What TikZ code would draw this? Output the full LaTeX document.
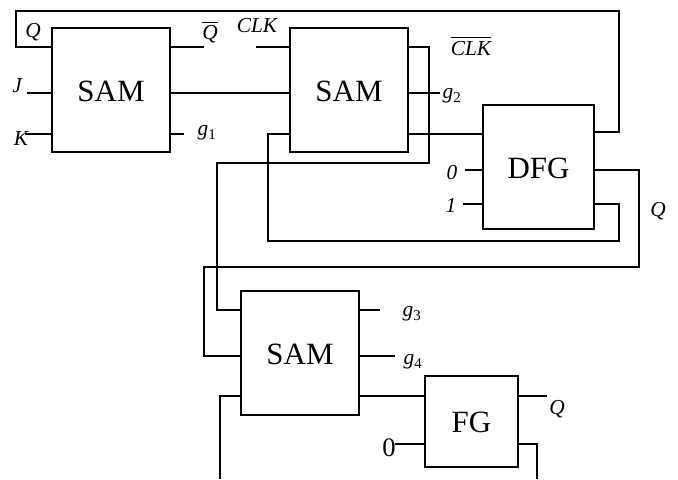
\documentclass[tikz,border=0pt]{standalone}
\usepackage{amsmath}
\usepackage{fontspec}
\setmainfont{Liberation Serif}
\newcommand{\subsig}[2]{\textit{#1}\textsubscript{\upshape #2}}
\tikzset{
    block/.style={draw, line width=1.1pt, inner sep=0pt, outer sep=0pt, text height=17.2pt, text depth=0pt, font=\fontsize{23.2}{26}\selectfont},
    samblock/.style={block, minimum width=88.5pt, minimum height=93pt},
    dfgblock/.style={block, minimum width=83.25pt, minimum height=93pt},
    fgblock/.style={block, minimum width=69.75pt, minimum height=68.25pt},
    wire/.style={draw, line width=1pt},
    sig/.style={inner sep=0pt, font=\fontsize{16}{18}\selectfont\itshape},
}

\begin{document}
\begin{tikzpicture}[x=0.75pt, y=-0.75pt]
        \useasboundingbox (0,0) rectangle (678,479);

        \node[samblock] (samA) at (111,90) {SAM};
        \node[samblock] (samB) at (349,90) {SAM};
        \node[dfgblock] (dfg) at (538.5,167) {DFG};
        \node[samblock] (samC) at (300,353) {SAM};
        \node[fgblock] (fg) at (471.5,421.5) {FG};

        \node[sig] (lblQa) at (33,32) {Q};
        \node[sig] (lblJ) at (17,86) {J};
        \node[sig] (lblK) at (21,139) {K};
        \node[sig] (lblQbar) at (210,32) {$\overline{\mbox{\itshape Q}}$};
        \node[sig] (lblGa) at (207,133) {\subsig{g}{1}};
        \node[sig] (lblClk) at (257,26) {CLK};
        \node[sig] (lblClkbar) at (471,46) {$\overline{\mbox{\itshape CLK}}$};
        \node[sig] (lblGb) at (452,96) {\subsig{g}{2}};
        \node[sig] (lblZero) at (452,173) {0};
        \node[sig] (lblOne) at (451,205) {1};
        \node[sig] (lblQb) at (658,211) {Q};
        \node[sig] (lblGc) at (412,314) {\subsig{g}{3}};
        \node[sig] (lblGd) at (413,362) {\subsig{g}{4}};
        \node[sig] (lblQc) at (557,409) {Q};
        \node[sig, font=\fontsize{20}{22}\selectfont] (lblZeroB) at (389,448) {0};

        \coordinate (loopL) at (16,47);
        \coordinate (loopR) at (619,11);
        \coordinate (backL) at (268,241);
        \coordinate (backR) at (619,204);
        \coordinate (crossA) at (429,163);
        \coordinate (crossB) at (217,310);
        \coordinate (outR) at (639,267);
        \coordinate (outL) at (204,356);
        \coordinate (endA) at (220,479);
        \coordinate (endB) at (537,479);

        % feedback and cross wires
        \draw[wire] (samA.west |- loopL) -- (loopL) |- (loopR) |- (dfg.east |- 0,132);
        \draw[wire] (samB.east |- 0,47) -| (crossA) -| (crossB) -- (samC.west |- crossB);
        \draw[wire] (samB.west |- 0,134) -| (backL) -| (backR) -- (dfg.east |- backR);
        \draw[wire] (dfg.east |- 0,170) -| (outR) -| (outL) -- (samC.west |- outL);
        \draw[wire] (samC.west |- 0,396) -| (endA);
        \draw[wire] (fg.east |- 0,444) -| (endB);

        % block to block
        \draw[wire] (samA.east |- 0,93) -- (samB.west |- 0,93);
        \draw[wire] (samB.east |- 0,134) -- (dfg.west |- 0,134);
        \draw[wire] (samC.east |- 0,396) -- (fg.west |- 0,396);

        % stubs
        \draw[wire] (27,93) -- (samA.west |- 0,93);
        \draw[wire] (25,134) -- (samA.west |- 0,134);
        \draw[wire] (samA.east |- 0,47) -- (204,47);
        \draw[wire] (samA.east |- 0,134) -- (184,134);
        \draw[wire] (256,47) -- (samB.west |- 0,47);
        \draw[wire] (samB.east |- 0,93) -- (440,93);
        \draw[wire] (465,170) -- (dfg.west |- 0,170);
        \draw[wire] (463,204) -- (dfg.west |- 0,204);
        \draw[wire] (samC.east |- 0,310) -- (380,310);
        \draw[wire] (samC.east |- 0,356) -- (395,356);
        \draw[wire] (fg.east |- 0,396) -- (547,396);
        \draw[wire] (395,444) -- (fg.west |- 0,444);
    \end{tikzpicture}
\end{document}
